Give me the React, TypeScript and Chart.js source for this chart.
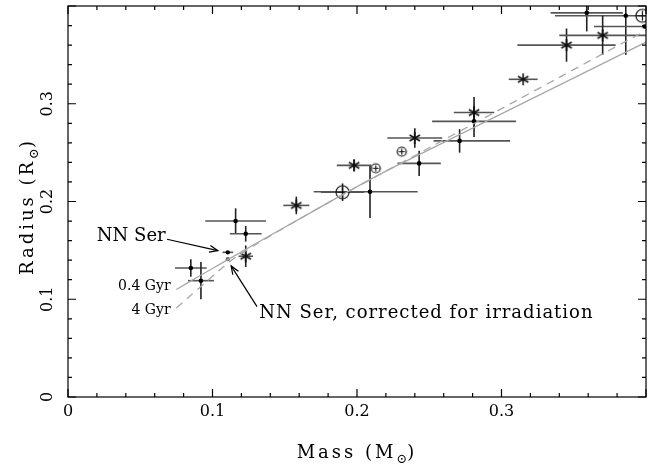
import React, { useEffect, useRef } from "react";
import { Chart, registerables } from "chart.js";

Chart.register(...registerables);

const FONT = '"DejaVu Serif", "Liberation Serif", serif';

// Axis range and ticks
const xMin = 0;
const xMax = 0.4;
const yMin = 0;
const yMax = 0.4;
const xMajorTicks = [0, 0.1, 0.2, 0.3, 0.4];
const xMinorTicks = [0.02, 0.04, 0.06, 0.08, 0.12, 0.14, 0.16, 0.18, 0.22, 0.24, 0.26, 0.28, 0.32, 0.34, 0.36, 0.38];
const yMajorTicks = [0, 0.1, 0.2, 0.3, 0.4];
const yMinorTicks = [0.02, 0.04, 0.06, 0.08, 0.12, 0.14, 0.16, 0.18, 0.22, 0.24, 0.26, 0.28, 0.32, 0.34, 0.36, 0.38];
const xTickLabels = ["0", "0.1", "0.2", "0.3"];
const yTickLabels = ["0", "0.1", "0.2", "0.3"];

// Filled dots with error bars
const dotMass = [0.085, 0.092, 0.116, 0.123, 0.209, 0.243, 0.271, 0.281, 0.359, 0.386, 0.399];
const dotRadius = [0.132, 0.119, 0.180, 0.167, 0.210, 0.239, 0.262, 0.282, 0.393, 0.390, 0.379];
const dotMassErrLo = [0.011, 0.009, 0.021, 0.011, 0.039, 0.015, 0.018, 0.029, 0.025, 0.049, 0.035];
const dotMassErrHi = [0.011, 0.009, 0.021, 0.011, 0.033, 0.015, 0.035, 0.029, 0.025, 0.049, 0.035];
const dotRadiusErr = [0.009, 0.019, 0.013, 0.008, 0.027, 0.013, 0.012, 0.016, 0.019, 0.040, 0.0];

// Asterisks with error bars
const starMass = [0.123, 0.158, 0.198, 0.240, 0.281, 0.315, 0.345, 0.370];
const starRadius = [0.144, 0.196, 0.237, 0.265, 0.291, 0.325, 0.360, 0.370];
const starMassErr = [0.005, 0.009, 0.012, 0.019, 0.014, 0.010, 0.034, 0.030];
const starRadiusErr = [0.011, 0.009, 0.006, 0.010, 0.016, 0.0, 0.017, 0.020];

// Large circled symbols
const circleMass = [0.190, 0.3975];
const circleRadius = [0.2095, 0.390];
const circleMassErr = [0.015, 0.0];
const circleRadiusErr = [0.009, 0.0];

// Small circled-plus symbols
const smallCircleMass = [0.213, 0.231];
const smallCircleRadius = [0.234, 0.251];

// NN Ser
const nnSerMass = [0.1106];
const nnSerRadius = [0.148];
const nnSerMassErr = [0.0037];
const nnSerCorrMass = [0.1106];
const nnSerCorrRadius = [0.141];

// Models
const model04Mass = [0.075, 0.09, 0.11, 0.13, 0.16, 0.19, 0.22, 0.25, 0.28, 0.31, 0.34, 0.37, 0.40];
const model04Radius = [0.110, 0.123, 0.140, 0.157, 0.182, 0.207, 0.231, 0.253, 0.275, 0.297, 0.319, 0.341, 0.363];
const model4Mass = [0.075, 0.085, 0.095, 0.105, 0.115, 0.13, 0.16, 0.19, 0.22, 0.25, 0.28, 0.31, 0.34, 0.37, 0.40];
const model4Radius = [0.091, 0.104, 0.117, 0.130, 0.142, 0.156, 0.182, 0.207, 0.231, 0.255, 0.279, 0.303, 0.327, 0.351, 0.375];

// Annotations (data coordinates)
const labelNN = { text: "NN Ser", x: 0.0676, y: 0.1648 };
const arrowNN = { x0: 0.0685, y0: 0.1614, x1: 0.1037, y1: 0.1497 };
const labelCorr = { text: "NN Ser, corrected for irradiation", x: 0.1324, y: 0.086 };
const arrowCorr = { x0: 0.1308, y0: 0.0924, x1: 0.1129, y1: 0.1341 };
const label04 = { text: "0.4 Gyr", x: 0.071, y: 0.1129 };
const label4 = { text: "4 Gyr", x: 0.071, y: 0.089 };

const zip = (xs: number[], ys: number[]) => xs.map((x, i) => ({ x, y: ys[i] }));

function makeCircleStyle(r: number, plus: boolean) {
  const size = Math.ceil(r * 2 + 4);
  const c = document.createElement("canvas");
  c.width = size;
  c.height = size;
  const ctx = c.getContext("2d")!;
  const m = size / 2;
  ctx.strokeStyle = "#111";
  ctx.lineWidth = 1.2;
  ctx.beginPath();
  ctx.arc(m, m, r, 0, Math.PI * 2);
  ctx.stroke();
  if (plus) {
    ctx.beginPath();
    ctx.moveTo(m - r + 1.5, m);
    ctx.lineTo(m + r - 1.5, m);
    ctx.moveTo(m, m - r + 1.5);
    ctx.lineTo(m, m + r - 1.5);
    ctx.stroke();
  }
  return c;
}

function makeAsteriskStyle(r: number) {
  const size = Math.ceil(r * 2 + 4);
  const c = document.createElement("canvas");
  c.width = size;
  c.height = size;
  const ctx = c.getContext("2d")!;
  const m = size / 2;
  ctx.strokeStyle = "#111";
  ctx.lineWidth = 1.5;
  ctx.beginPath();
  [90, 30, 150].forEach((deg) => {
    const a = (deg * Math.PI) / 180;
    ctx.moveTo(m - r * Math.cos(a), m - r * Math.sin(a));
    ctx.lineTo(m + r * Math.cos(a), m + r * Math.sin(a));
  });
  ctx.stroke();
  return c;
}

function drawArrow(ctx: CanvasRenderingContext2D, x0: number, y0: number, x1: number, y1: number) {
  ctx.beginPath();
  ctx.moveTo(x0, y0);
  ctx.lineTo(x1, y1);
  ctx.stroke();
  const a = Math.atan2(y1 - y0, x1 - x0);
  const L = 9;
  const w = 0.38;
  ctx.beginPath();
  ctx.moveTo(x1 - L * Math.cos(a - w), y1 - L * Math.sin(a - w));
  ctx.lineTo(x1, y1);
  ctx.lineTo(x1 - L * Math.cos(a + w), y1 - L * Math.sin(a + w));
  ctx.stroke();
}

function drawParts(
  ctx: CanvasRenderingContext2D,
  parts: { t: string; sub?: boolean }[],
  size: number,
  spacing: number
) {
  const setFont = (sub?: boolean) => {
    ctx.font = `${sub ? Math.round(size * 0.7) : size}px ${FONT}`;
    (ctx as any).letterSpacing = `${sub ? 0 : spacing}px`;
  };
  const widths = parts.map((p) => {
    setFont(p.sub);
    return ctx.measureText(p.t).width;
  });
  const total = widths.reduce((a, b) => a + b, 0);
  let x = -total / 2;
  parts.forEach((p, i) => {
    setFont(p.sub);
    ctx.textAlign = "left";
    ctx.textBaseline = "alphabetic";
    ctx.fillText(p.t, x, p.sub ? size * 0.3 : 0);
    x += widths[i];
  });
  (ctx as any).letterSpacing = "0px";
}

const errorBarPlugin = {
  id: "errorBars",
  beforeDatasetsDraw(chart: any) {
    const { ctx, chartArea, scales } = chart;
    const xs = scales.x;
    const ys = scales.y;
    ctx.save();
    ctx.beginPath();
    ctx.rect(chartArea.left, chartArea.top, chartArea.right - chartArea.left, chartArea.bottom - chartArea.top);
    ctx.clip();
    ctx.lineWidth = 1.6;
    const bar = (mx: number, my: number, lo: number, hi: number, ye: number) => {
      const px = xs.getPixelForValue(mx);
      const py = ys.getPixelForValue(my);
      if (lo > 0 || hi > 0) {
        ctx.strokeStyle = "#555";
        ctx.beginPath();
        ctx.moveTo(xs.getPixelForValue(mx - lo), py);
        ctx.lineTo(xs.getPixelForValue(mx + hi), py);
        ctx.stroke();
      }
      if (ye > 0) {
        ctx.strokeStyle = "#222";
        ctx.beginPath();
        ctx.moveTo(px, ys.getPixelForValue(my - ye));
        ctx.lineTo(px, ys.getPixelForValue(my + ye));
        ctx.stroke();
      }
    };
    dotMass.forEach((m, i) => bar(m, dotRadius[i], dotMassErrLo[i], dotMassErrHi[i], dotRadiusErr[i]));
    starMass.forEach((m, i) => bar(m, starRadius[i], starMassErr[i], starMassErr[i], starRadiusErr[i]));
    circleMass.forEach((m, i) => bar(m, circleRadius[i], circleMassErr[i], circleMassErr[i], circleRadiusErr[i]));
    nnSerMass.forEach((m, i) => bar(m, nnSerRadius[i], nnSerMassErr[i], nnSerMassErr[i], 0));
    ctx.restore();
  },
};

const framePlugin = {
  id: "frame",
  afterDraw(chart: any) {
    const { ctx, chartArea, scales } = chart;
    const xs = scales.x;
    const ys = scales.y;
    const { left, right, top, bottom } = chartArea;
    ctx.save();
    ctx.strokeStyle = "#000";
    ctx.lineWidth = 1.2;
    ctx.strokeRect(left, top, right - left, bottom - top);
    const major = 8;
    const minor = 4;
    ctx.beginPath();
    const xt = (v: number, len: number) => {
      const p = xs.getPixelForValue(v);
      ctx.moveTo(p, bottom);
      ctx.lineTo(p, bottom - len);
      ctx.moveTo(p, top);
      ctx.lineTo(p, top + len);
    };
    const yt = (v: number, len: number) => {
      const p = ys.getPixelForValue(v);
      ctx.moveTo(left, p);
      ctx.lineTo(left + len, p);
      ctx.moveTo(right, p);
      ctx.lineTo(right - len, p);
    };
    xMajorTicks.forEach((v) => xt(v, major));
    xMinorTicks.forEach((v) => xt(v, minor));
    yMajorTicks.forEach((v) => yt(v, major));
    yMinorTicks.forEach((v) => yt(v, minor));
    ctx.stroke();

    ctx.fillStyle = "#000";
    ctx.font = `16px ${FONT}`;
    ctx.textAlign = "center";
    ctx.textBaseline = "middle";
    xTickLabels.forEach((t, i) => {
      ctx.fillText(t, xs.getPixelForValue(xMajorTicks[i]), bottom + 15);
    });
    yTickLabels.forEach((t, i) => {
      ctx.save();
      ctx.translate(left - 20, ys.getPixelForValue(yMajorTicks[i]));
      ctx.rotate(-Math.PI / 2);
      ctx.fillText(t, 0, 0);
      ctx.restore();
    });

    // axis titles
    ctx.save();
    ctx.translate((left + right) / 2, bottom + 61);
    drawParts(ctx, [{ t: "Mass (M" }, { t: "\u2299", sub: true }, { t: ")" }], 18, 3);
    ctx.restore();
    ctx.save();
    ctx.translate(33, (top + bottom) / 2 + 5);
    ctx.rotate(-Math.PI / 2);
    drawParts(ctx, [{ t: "Radius (R" }, { t: "\u2299", sub: true }, { t: ")" }], 18, 3);
    ctx.restore();

    // annotations
    ctx.textBaseline = "middle";
    ctx.font = `18px ${FONT}`;
    ctx.textAlign = "right";
    ctx.fillText(labelNN.text, xs.getPixelForValue(labelNN.x), ys.getPixelForValue(labelNN.y));
    ctx.textAlign = "left";
    (ctx as any).letterSpacing = "1px";
    ctx.fillText(labelCorr.text, xs.getPixelForValue(labelCorr.x), ys.getPixelForValue(labelCorr.y));
    (ctx as any).letterSpacing = "0px";
    ctx.font = `14px ${FONT}`;
    ctx.textAlign = "right";
    ctx.fillText(label04.text, xs.getPixelForValue(label04.x), ys.getPixelForValue(label04.y));
    ctx.fillText(label4.text, xs.getPixelForValue(label4.x), ys.getPixelForValue(label4.y));

    ctx.strokeStyle = "#000";
    ctx.lineWidth = 1.2;
    drawArrow(ctx, xs.getPixelForValue(arrowNN.x0), ys.getPixelForValue(arrowNN.y0), xs.getPixelForValue(arrowNN.x1), ys.getPixelForValue(arrowNN.y1));
    drawArrow(ctx, xs.getPixelForValue(arrowCorr.x0), ys.getPixelForValue(arrowCorr.y0), xs.getPixelForValue(arrowCorr.x1), ys.getPixelForValue(arrowCorr.y1));
    ctx.restore();
  },
};

export default function App() {
  const ref = useRef<HTMLCanvasElement>(null);
  useEffect(() => {
    const canvas = ref.current!;
    const bigCircle = makeCircleStyle(6.5, true);
    const smallCircle = makeCircleStyle(4.5, true);
    const asterisk = makeAsteriskStyle(6);
    const chart = new Chart(canvas, {
      type: "scatter",
      data: {
        datasets: [
          {
            label: "0.4 Gyr",
            data: zip(model04Mass, model04Radius),
            showLine: true,
            borderColor: "#a8a8a8",
            borderWidth: 1.3,
            pointRadius: 0,
            tension: 0.3,
          },
          {
            label: "4 Gyr",
            data: zip(model4Mass, model4Radius),
            showLine: true,
            borderColor: "#a8a8a8",
            borderWidth: 1.3,
            borderDash: [8, 6],
            pointRadius: 0,
            tension: 0.3,
          },
          {
            label: "dots",
            data: zip(dotMass, dotRadius),
            pointStyle: "circle",
            pointRadius: 2.3,
            backgroundColor: "#000",
            borderColor: "#000",
            borderWidth: 0,
          },
          {
            label: "stars",
            data: zip(starMass, starRadius),
            pointStyle: asterisk as any,
          },
          {
            label: "circles",
            data: zip(circleMass, circleRadius),
            pointStyle: bigCircle as any,
          },
          {
            label: "smallCircles",
            data: zip(smallCircleMass, smallCircleRadius),
            pointStyle: smallCircle as any,
          },
          {
            label: "NN Ser",
            data: zip(nnSerMass, nnSerRadius),
            pointStyle: "circle",
            pointRadius: 2.2,
            backgroundColor: "#000",
            borderWidth: 0,
          },
          {
            label: "NN Ser corrected",
            data: zip(nnSerCorrMass, nnSerCorrRadius),
            pointStyle: "circle",
            pointRadius: 2.2,
            backgroundColor: "#666",
            borderWidth: 0,
          },
        ],
      },
      options: {
        animation: false,
        responsive: false,
        devicePixelRatio: 1,
        layout: { padding: { left: 68, right: 3, top: 6, bottom: 69 } },
        plugins: { legend: { display: false }, tooltip: { enabled: false } },
        scales: {
          x: { type: "linear", min: xMin, max: xMax, display: false },
          y: { type: "linear", min: yMin, max: yMax, display: false },
        },
      },
      plugins: [errorBarPlugin, framePlugin],
    });
    return () => chart.destroy();
  }, []);
  return (
    <div style={{ position: "fixed", left: 0, top: 0, width: 651, height: 466, background: "#fff" }}>
      <canvas ref={ref} width={651} height={466} />
    </div>
  );
}
